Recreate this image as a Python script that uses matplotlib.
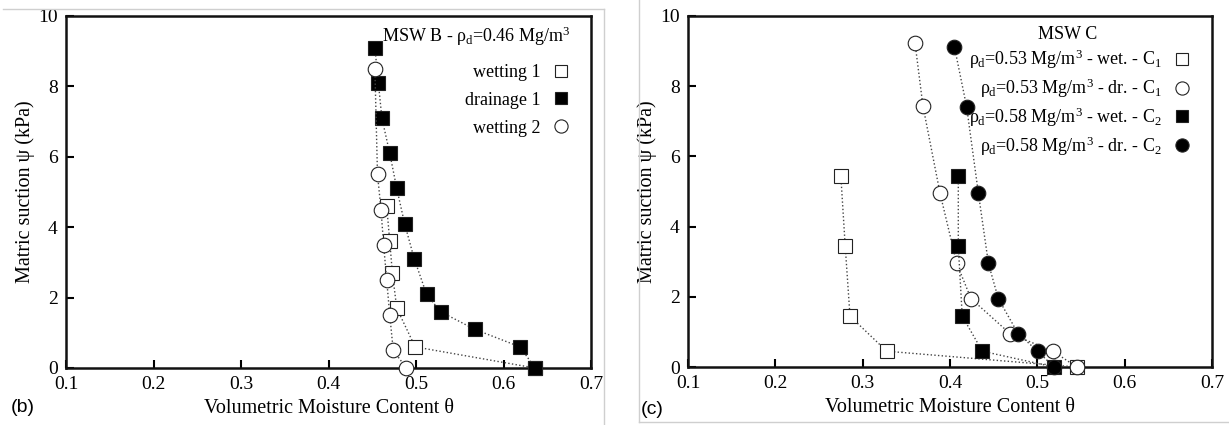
import matplotlib
matplotlib.use("Agg")
import matplotlib.pyplot as plt
from matplotlib.lines import Line2D

plt.rcParams['font.family'] = ['Liberation Serif', 'DejaVu Serif']
plt.rcParams['mathtext.fontset'] = 'custom'
plt.rcParams['mathtext.rm'] = 'Liberation Serif'
plt.rcParams['mathtext.it'] = 'Liberation Serif'

# panel (b) - MSW B
b_wet1_theta = [0.636, 0.499, 0.478, 0.473, 0.470, 0.4665]
b_wet1_psi = [0.0, 0.6, 1.7, 2.7, 3.6, 4.6]
b_dr1_theta = [0.636, 0.619, 0.567, 0.528, 0.512, 0.498, 0.487, 0.478, 0.470, 0.461, 0.457, 0.453]
b_dr1_psi = [0.0, 0.6, 1.1, 1.6, 2.1, 3.1, 4.1, 5.1, 6.1, 7.1, 8.1, 9.1]
b_wet2_theta = [0.453, 0.456, 0.460, 0.463, 0.4665, 0.470, 0.474, 0.489]
b_wet2_psi = [8.5, 5.5, 4.5, 3.5, 2.5, 1.5, 0.5, 0.0]

# panel (c) - MSW C
c_wet1_theta = [0.275, 0.280, 0.2855, 0.3275, 0.545]
c_wet1_psi = [5.45, 3.45, 1.45, 0.45, 0.0]
c_dr1_theta = [0.360, 0.369, 0.3886, 0.4077, 0.424, 0.4687, 0.518, 0.545]
c_dr1_psi = [9.22, 7.44, 4.95, 2.95, 1.95, 0.95, 0.45, 0.0]
c_wet2_theta = [0.4095, 0.4095, 0.414, 0.437, 0.519]
c_wet2_psi = [5.45, 3.45, 1.45, 0.45, 0.0]
c_dr2_theta = [0.405, 0.419, 0.4325, 0.444, 0.4553, 0.478, 0.5005, 0.519]
c_dr2_psi = [9.13, 7.42, 4.95, 2.95, 1.95, 0.95, 0.45, 0.0]

xticks = [0.1, 0.2, 0.3, 0.4, 0.5, 0.6, 0.7]
yticks = [0, 2, 4, 6, 8, 10]

EDGE = '#222222'


def series(ax, x, y, marker, filled, label):
    ax.plot(x, y, linestyle=':', color='#444444', lw=1.0, marker=marker,
            markersize=9.5 if marker == 's' else 10.5,
            markerfacecolor='black' if filled else 'white',
            markeredgecolor=EDGE, markeredgewidth=0.8,
            label=label, clip_on=False, zorder=3)


def style_axes(ax):
    ax.set_xlim(0.1, 0.7)
    ax.set_ylim(0, 10)
    ax.set_xticks(xticks)
    ax.set_xticklabels(['0.1', '0.2', '0.3', '0.4', '0.5', '0.6', '0.7'])
    ax.set_yticks(yticks)
    ax.tick_params(direction='in', length=6, width=1.5, labelsize=14, pad=6,
                   top=False, right=False)
    for s in ax.spines.values():
        s.set_linewidth(1.8)
        s.set_color('#111111')
    ax.set_xlabel('Volumetric Moisture Content θ', fontsize=14.5, labelpad=4)
    ax.set_ylabel('Matric suction ψ (kPa)', fontsize=14.5, labelpad=2)


def legend(ax, anchor, spacing):
    h, l = ax.get_legend_handles_labels()
    hs = [Line2D([], [], linestyle='none', marker=x.get_marker(),
                 markersize=x.get_markersize() - 1,
                 markerfacecolor=x.get_markerfacecolor(),
                 markeredgecolor=EDGE, markeredgewidth=0.8) for x in h]
    leg = ax.legend(hs, l, loc='upper right', bbox_to_anchor=anchor,
                    frameon=False, markerfirst=False, handlelength=1.0,
                    handletextpad=0.6, fontsize=13, labelspacing=spacing,
                    borderaxespad=0.0, borderpad=0.2)
    return leg


fig = plt.figure(figsize=(12.29, 4.25), dpi=100)
axb = fig.add_axes([66 / 1229, 57 / 425, 525 / 1229, 352 / 425])
axc = fig.add_axes([688 / 1229, 58 / 425, 524 / 1229, 351 / 425])

series(axb, b_wet1_theta, b_wet1_psi, 's', False, 'wetting 1')
series(axb, b_dr1_theta, b_dr1_psi, 's', True, 'drainage 1')
series(axb, b_wet2_theta, b_wet2_psi, 'o', False, 'wetting 2')
style_axes(axb)
legend(axb, (0.966, 0.874), 0.6)
axb.text(0.96, 0.943, r'MSW B - $\rho_{\rm d}$=0.46 Mg/m$^3$', transform=axb.transAxes,
         ha='right', va='center', fontsize=13)

series(axc, c_wet1_theta, c_wet1_psi, 's', False, r'$\rho_{\rm d}$=0.53 Mg/m$^3$ - wet. - C$_1$')
series(axc, c_dr1_theta, c_dr1_psi, 'o', False, r'$\rho_{\rm d}$=0.53 Mg/m$^3$ - dr. - C$_1$')
series(axc, c_wet2_theta, c_wet2_psi, 's', True, r'$\rho_{\rm d}$=0.58 Mg/m$^3$ - wet. - C$_2$')
series(axc, c_dr2_theta, c_dr2_psi, 'o', True, r'$\rho_{\rm d}$=0.58 Mg/m$^3$ - dr. - C$_2$')
style_axes(axc)
legend(axc, (0.966, 0.92), 0.3)
axc.text(0.725, 0.946, 'MSW C', transform=axc.transAxes, ha='center', va='center', fontsize=13)

# panel letters
fig.text(11 / 1229, 1 - 408 / 425, '(b)', family='Liberation Sans', fontsize=14, va='center')
fig.text(641 / 1229, 1 - 410 / 425, '(c)', family='Liberation Sans', fontsize=14, va='center')

# light grey panel borders
g = '#cfcfcf'
fig.add_artist(Line2D([3 / 1229, 604 / 1229], [1 - 9 / 425, 1 - 9 / 425], color=g, lw=1))
fig.add_artist(Line2D([604 / 1229, 604 / 1229], [0, 1 - 9 / 425], color=g, lw=1))
fig.add_artist(Line2D([639 / 1229, 639 / 1229], [1 - 422 / 425, 1], color=g, lw=1))
fig.add_artist(Line2D([639 / 1229, 1], [1 - 422 / 425, 1 - 422 / 425], color=g, lw=1))

fig.savefig('out.png', dpi=100)
